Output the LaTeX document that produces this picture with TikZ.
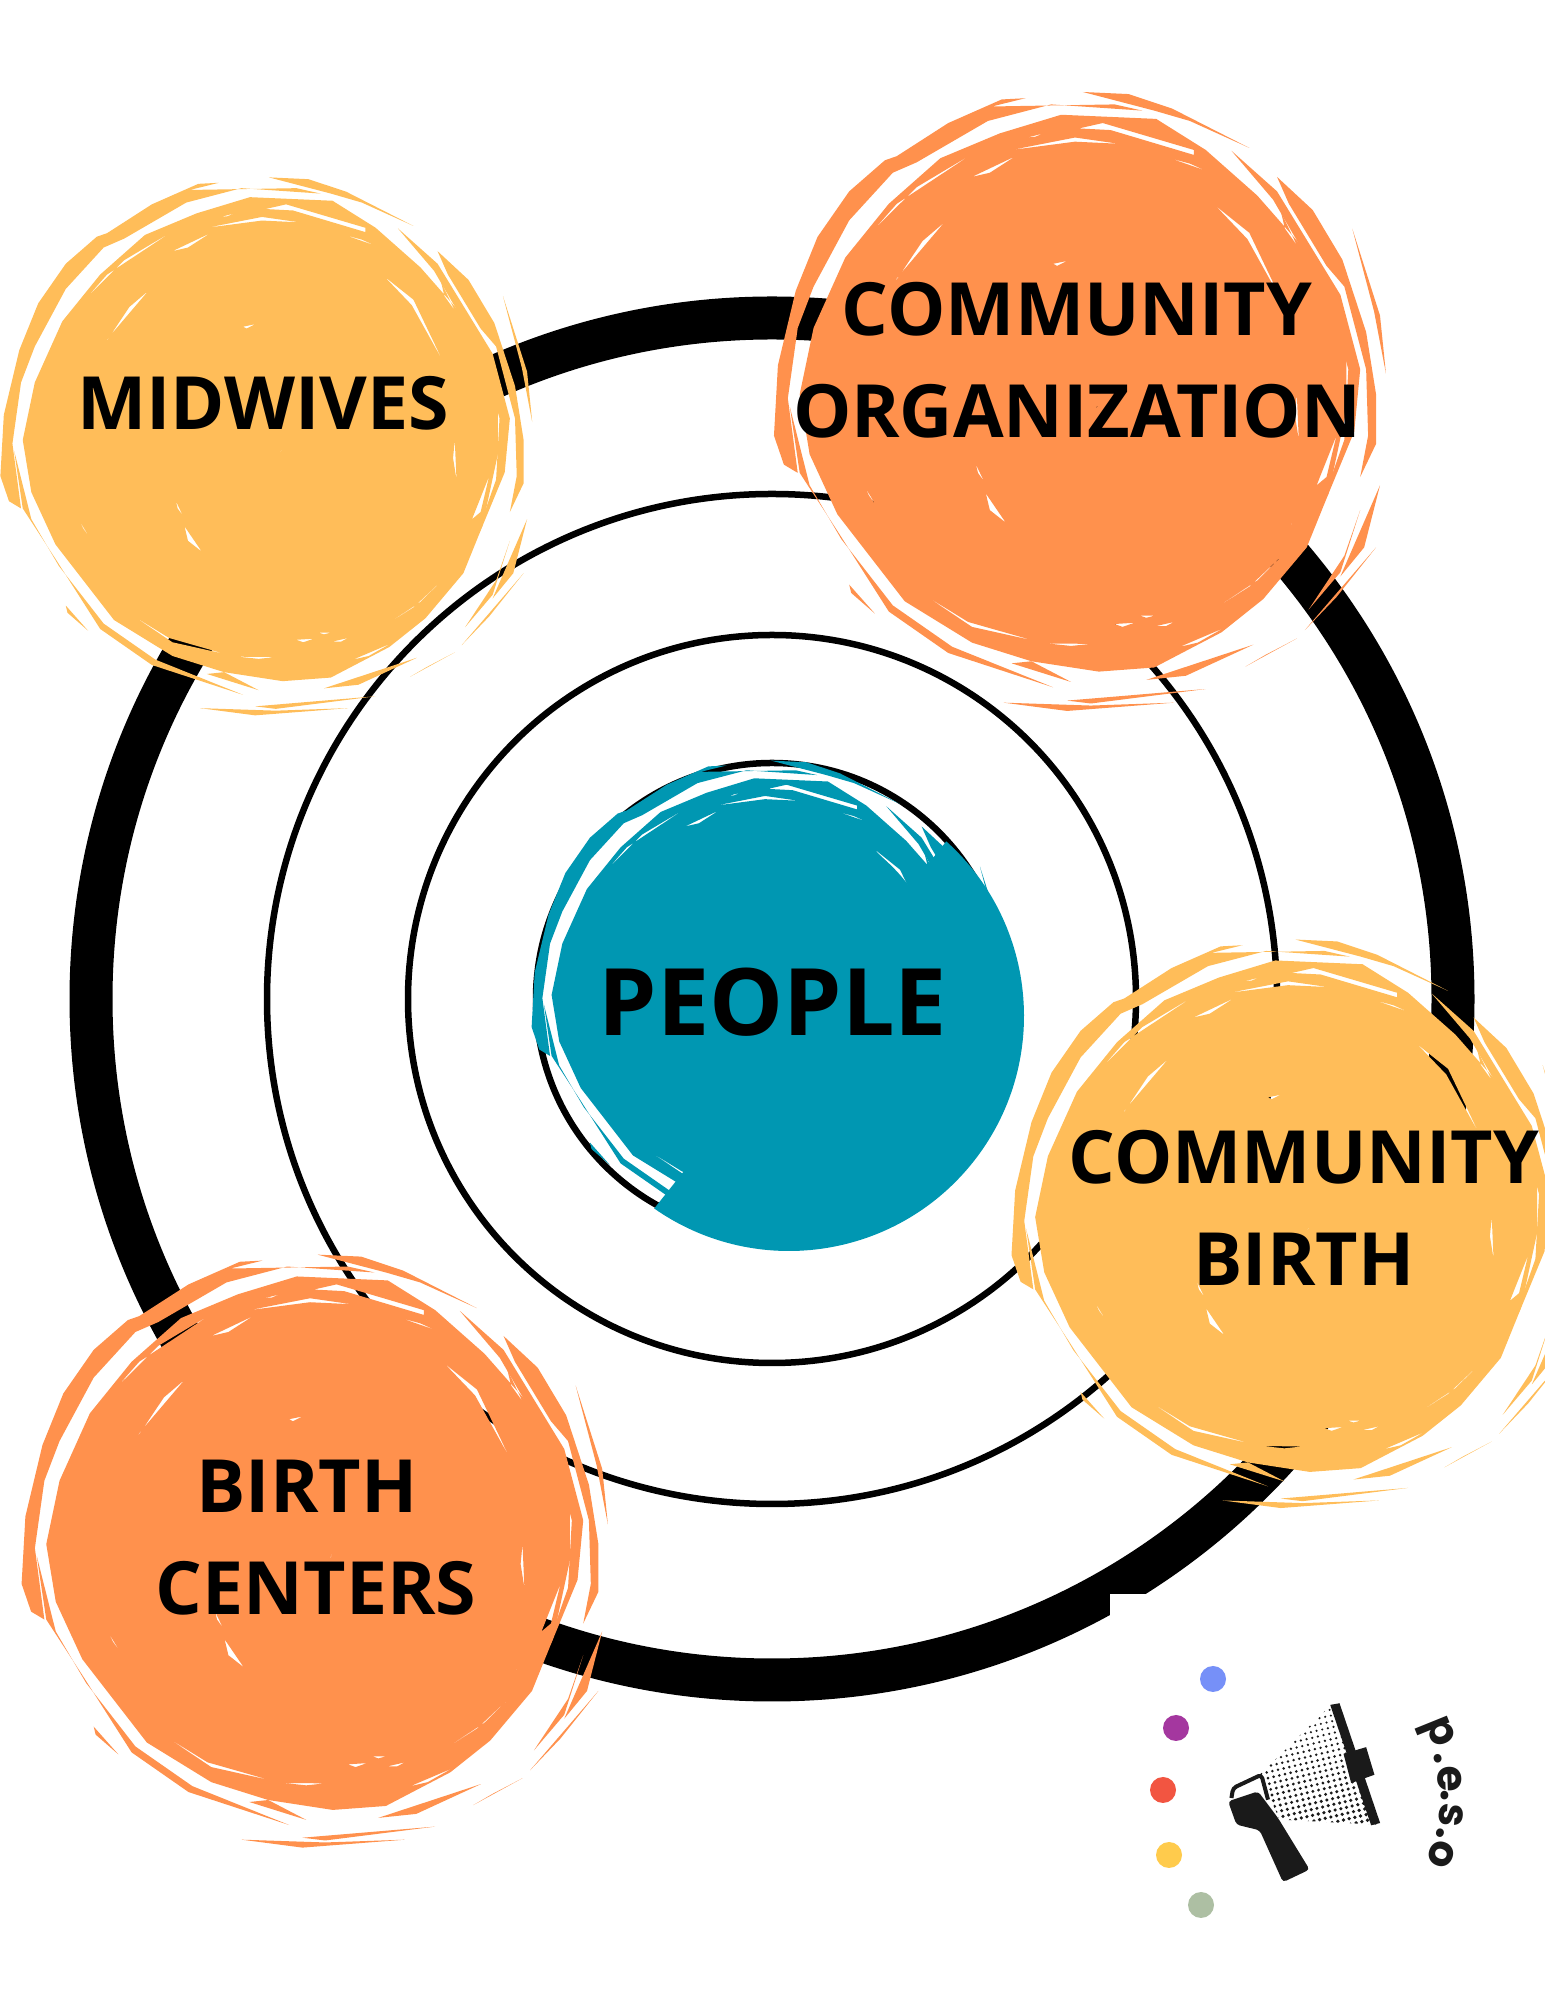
\documentclass[tikz,border=0pt]{standalone}
\usepackage{fontspec}
\setmainfont{Open Sans}
\newfontfamily\pesofont{Poppins}
\usepackage{xcolor}
\definecolor{brushorange}{HTML}{FF914D}
\definecolor{brushyellow}{HTML}{FFBD59}
\definecolor{brushteal}{HTML}{0097B2}
\definecolor{dotblue}{HTML}{7690F8}
\definecolor{dotpurple}{HTML}{A4379F}
\definecolor{dotred}{HTML}{F25541}
\definecolor{dotyellow}{HTML}{FFCB4C}
\definecolor{dotgreen}{HTML}{ADBFA3}
\definecolor{inkblack}{HTML}{1A1A1A}
% painted disc with scratched rim: centre x, centre y, size, colour
\newcommand{\brushdisc}[4]{
  \begin{scope}[shift={(#1,#2)},x=#3*0.00978cm,y=-#3*0.01022cm]
  \begin{scope}[shift={(-760,-757)}]
    % disc, the scratches are holes in it
    \fill[#4, even odd rule] (725,85) -- (965,95) -- (1090,170) -- (1220,280) -- (1390,465) -- (1445,640) -- (1445,800) -- (1400,1000) -- (1345,1130) -- (1235,1255) -- (1130,1335) -- (960,1420) -- (820,1430) -- (650,1405) -- (500,1360) -- (330,1260) -- (160,1050) -- (90,905) -- (65,760) -- (100,600) -- (180,430) -- (290,300) -- (420,190) -- (570,130) -- cycle
      (770,118) -- (830,105) -- (1060,170) -- (1060,182) -- (850,122) -- cycle
      (600,170) -- (760,140) -- (870,155) -- (760,150) -- cycle
      (500,235) -- (610,185) -- (545,225) -- cycle
      (640,140) -- (680,130) -- (660,138) -- cycle
      (1000,190) -- (1090,220) -- (1050,203) -- cycle
      (1115,305) -- (1200,370) -- (1285,540) -- (1195,385) -- cycle
      (275,555) -- (310,480) -- (430,345) -- (375,390) -- (305,490) -- cycle
      (705,445) -- (740,438) -- (715,450) -- cycle
      (1290,1100) -- (1345,1015) -- (1305,1075) -- cycle
      (510,930) -- (530,970) -- (515,950) -- cycle
      (535,1000) -- (585,1070) -- (545,1040) -- cycle
      (805,810) -- (825,775) -- (815,790) -- cycle
      (230,985) -- (262,1035) -- (240,1005) -- cycle
      (1320,760) -- (1325,870) -- (1315,810) -- cycle
      (380,1245) -- (490,1310) -- (655,1355) -- (500,1322) -- cycle
      (860,1315) -- (910,1312) -- (880,1322) -- cycle
      (925,1295) -- (960,1295) -- (940,1300) -- cycle
      (965,1320) -- (1010,1310) -- (990,1320) -- cycle
      (1025,1370) -- (1135,1325) -- (1070,1360) -- cycle
      (1085,1295) -- (1220,1210) -- (1310,1125) -- (1200,1225) -- cycle
      (690,1362) -- (800,1363) -- (750,1368) -- cycle
      (250,365) -- (360,260) -- (500,180) -- (310,300) -- cycle
      (1370,980) -- (1420,860) -- (1395,960) -- cycle
      (1280,320) -- (1320,400) -- (1290,360) -- cycle;
    % rim strokes
    \fill[#4] (0,860) -- (10,690) -- (55,510) -- (110,380) -- (190,270) -- (280,195) -- (310,185) -- (440,105) -- (575,48) -- (635,45) -- (550,65) -- (860,60) -- (930,75) -- (700,60) -- (540,100) -- (360,200) -- (300,225) -- (190,340) -- (100,500) -- (60,600) -- (35,770) -- (60,950) -- (25,930) -- cycle;
    \fill[#4] (780,30) -- (895,35) -- (1005,70) -- (1200,165) -- (1050,100) -- (960,75) -- (860,50) -- cycle;
    \fill[#4] (40,790) -- (65,950) -- (160,1090) -- (290,1285) -- (440,1385) -- (705,1468) -- (450,1370) -- (300,1270) -- (170,1110) -- (90,980) -- cycle;
    \fill[#4] (190,1220) -- (255,1290) -- (195,1240) -- cycle;
    \fill[#4] (650,1405) -- (750,1455) -- (600,1410) -- cycle;
    \fill[#4] (580,1505) -- (740,1525) -- (1010,1505) -- (800,1512) -- cycle;
    \fill[#4] (740,1500) -- (1090,1472) -- (800,1507) -- cycle;
    \fill[#4] (940,1450) -- (1210,1365) -- (1040,1440) -- cycle;
    \fill[#4] (1190,1418) -- (1320,1350) -- (1240,1390) -- cycle;
    \fill[#4] (1350,1280) -- (1430,1190) -- (1480,1040) -- (1440,1150) -- cycle;
    \fill[#4] (1430,1200) -- (1530,980) -- (1490,1130) -- cycle;
    \fill[#4] (1340,1330) -- (1520,1130) -- (1420,1250) -- cycle;
    \fill[#4] (1270,235) -- (1360,315) -- (1435,435) -- (1495,610) -- (1520,760) -- (1520,880) -- (1480,960) -- (1500,860) -- (1495,700) -- (1440,500) -- (1395,450) -- (1300,300) -- cycle;
    \fill[#4] (1460,360) -- (1530,570) -- (1545,710) -- (1515,560) -- cycle;
    \fill[#4] (1155,172) -- (1270,270) -- (1430,520) -- (1480,700) -- (1465,850) -- (1400,1000) -- (1370,1060) -- (1440,870) -- (1450,700) -- (1400,520) -- (1260,290) -- cycle;
  \end{scope}
  \end{scope}
}
\begin{document}
\begin{tikzpicture}[
    ringthin/.style={draw=black, line width=0.065cm},
    caption/.style={font=\bfseries\fontsize{20.9}{29}\selectfont, text=black, align=center},
    spot/.style={circle, minimum size=0.26cm, inner sep=0pt},
    pesoletter/.style={font=\pesofont\bfseries\fontsize{12}{13}\selectfont, text=inkblack, inner sep=0pt},
  ]
  \useasboundingbox (0,0) rectangle (15.45,20);

  % rings
  \draw[draw=black, line width=0.43cm] (7.72,10.01) circle (6.81);
  \fill[white] (11.1,2.5) rectangle (12.5,4.06);
  \draw[ringthin] (7.72,10.01) circle (5.05);
  \draw[ringthin] (7.72,10.01) circle (3.64);
  \draw[ringthin] (7.72,10.01) circle (2.36);

  % centre
  \brushdisc{7.65}{10.06}{0.314}{brushteal}
  \fill[brushteal] (7.65,10.06) circle (1.8);
  \fill[brushteal] (7.89,9.84) ++(48:2.35) arc (48:-125:2.35) -- cycle;
  \node[caption, font=\bfseries\fontsize{26.5}{29}\selectfont] (people) at (7.73,9.98) {PEOPLE};

  % painted discs
  \brushdisc{2.62}{15.61}{0.352}{brushyellow}
  \brushdisc{10.75}{16.07}{0.405}{brushorange}
  \brushdisc{12.88}{7.84}{0.372}{brushyellow}
  \brushdisc{3.10}{4.57}{0.388}{brushorange}

  \node[caption] (midwives) at (2.63,15.97) {MIDWIVES};
  \node[caption] (organization) at (10.77,16.4) {COMMUNITY\\ORGANIZATION};
  \node[caption] (birth) at (13.04,7.92) {COMMUNITY\\BIRTH};
  \node[caption] (centers) at (3.16,4.62) {BIRTH\hspace*{.25em}\\CENTERS};

  % dots
  \node[spot, fill=dotblue] (dot1) at (12.13,3.21) {};
  \node[spot, fill=dotpurple] (dot2) at (11.76,2.72) {};
  \node[spot, fill=dotred] (dot3) at (11.63,2.10) {};
  \node[spot, fill=dotyellow] (dot4) at (11.69,1.45) {};
  \node[spot, fill=dotgreen] (dot5) at (12.01,0.95) {};

  % megaphone
  \begin{scope}[shift={(11.2,3.4)},x=0.00333cm,y=-0.00333cm]
    \begin{scope}
      \clip (640,130) -- (775,495) -- (480,480) -- (420,345) -- cycle;
      \foreach \i in {0,...,30} {
        \foreach \j in {0,...,30} {
          \pgfmathsetmacro{\dotsize}{2.6+\j*0.12}
          \fill[inkblack] ({300+\i*17+\j*4},{120+\j*17-\i*4}) circle (\dotsize);
        }
      }
    \end{scope}
    \fill[inkblack, rounded corners=1pt] (325,425) -- (415,395) -- (475,475) -- (570,630) -- (490,668) -- (420,512) -- (350,495) -- cycle;
    \draw[inkblack, line width=0.04cm, rounded corners=1pt] (335,415) -- (340,385) -- (425,345) -- (445,420);
    \fill[inkblack] (632,135) -- (660,130) -- (782,490) -- (755,497) -- cycle;
    \fill[inkblack] (672,282) -- (740,262) -- (765,345) -- (695,370) -- cycle;
    \node[pesoletter, rotate=-68] (letterp) at (950,222) {p};
    \node[pesoletter, rotate=-80] (dota) at (957,296) {.};
    \node[pesoletter, rotate=-88] (lettere) at (990,358) {e};
    \node[pesoletter, rotate=-92] (dotb) at (978,408) {.};
    \node[pesoletter, rotate=-95] (letters) at (995,468) {s};
    \node[pesoletter, rotate=-105] (dotc) at (962,522) {.};
    \node[pesoletter, rotate=-112] (lettero) at (965,585) {o};
  \end{scope}
\end{tikzpicture}
\end{document}
